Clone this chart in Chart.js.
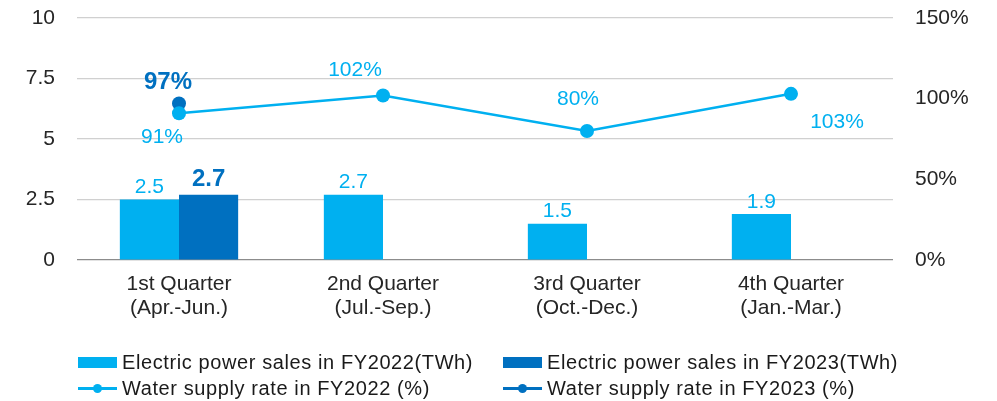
<!DOCTYPE html>
<html>
<head>
<meta charset="utf-8">
<script src="https://cdn.jsdelivr.net/npm/chart.js@4.4.1/dist/chart.umd.min.js"></script>
<style>
  html, body { margin: 0; padding: 0; background: #fff; }
  #wrap { position: relative; width: 997px; height: 401px; font-family: "Liberation Sans", Arial, sans-serif; }
  #legend { position: absolute; left: 0; top: 0; width: 997px; height: 401px; pointer-events: none; }
  .item { position: absolute; display: flex; align-items: center; font-size: 20px; letter-spacing: 0.6px; color: #1a1a1a; white-space: nowrap; }
  .box { width: 39px; height: 11px; margin-right: 5px; }
  .ln { position: relative; width: 39px; height: 3px; margin-right: 5px; }
  .ln span { position: absolute; left: 15px; top: -3px; width: 9px; height: 9px; border-radius: 50%; }
</style>
</head>
<body>
<div id="wrap">
  <canvas id="chart" width="997" height="401"></canvas>
  <div id="legend"></div>
</div>
<script>
const quarters = [
    ['1st Quarter', '(Apr.-Jun.)'],
    ['2nd Quarter', '(Jul.-Sep.)'],
    ['3rd Quarter', '(Oct.-Dec.)'],
    ['4th Quarter', '(Jan.-Mar.)'],
];
const sales2022 = [2.5, 2.7, 1.5, 1.9];
const sales2023 = [2.7, null, null, null];
const supply2022 = [91, 102, 80, 103];
const supply2023 = [97, null, null, null];
const salesTicks = [0, 2.5, 5, 7.5, 10];
const supplyTicks = [0, 50, 100, 150];

const LIGHT = '#00B0F0';
const DARK = '#0070C0';

// where each value label sits relative to its mark (dx, dy)
const labelStyle = [
    { color: LIGHT, font: '21px "Liberation Sans"', fmt: v => v.toFixed(1), off: [[0, -12], [0, -12], [0, -12], [0, -12]] },
    { color: DARK, font: 'bold 24px "Liberation Sans"', fmt: v => v.toFixed(1), off: [[0, -15]] },
    { color: LIGHT, font: '21px "Liberation Sans"', fmt: v => v + '%', off: [[-17, 24], [-28, -25], [-9, -32], [46, 28]] },
    { color: DARK, font: 'bold 24px "Liberation Sans"', fmt: v => v + '%', off: [[-11, -21]] },
];

const valueLabels = {
    id: 'valueLabels',
    afterDatasetsDraw(chart) {
        const ctx = chart.ctx;
        ctx.save();
        ctx.textAlign = 'center';
        ctx.textBaseline = 'middle';
        chart.data.datasets.forEach((ds, i) => {
            const st = labelStyle[i];
            chart.getDatasetMeta(i).data.forEach((el, j) => {
                const v = ds.data[j];
                if (v === null) return;
                const o = st.off[j] || [0, 0];
                ctx.fillStyle = st.color;
                ctx.font = st.font;
                ctx.fillText(st.fmt(v), el.x + o[0], el.y + o[1]);
            });
        });
        ctx.restore();
    }
};

Chart.defaults.font.family = '"Liberation Sans", Arial, sans-serif';
Chart.defaults.color = '#262626';

// fixed axis widths, and no extra top/bottom room from the tick padding
const fitY = w => s => { s.width = w; s.paddingTop = 0; s.paddingBottom = 0; };

new Chart(document.getElementById('chart'), {
    type: 'bar',
    data: {
        labels: quarters,
        datasets: [
            { label: 'Electric power sales in FY2022(TWh)', data: sales2022, backgroundColor: LIGHT, yAxisID: 'y', order: 2 },
            { label: 'Electric power sales in FY2023(TWh)', data: sales2023, backgroundColor: DARK, yAxisID: 'y', order: 3 },
            { type: 'line', label: 'Water supply rate in FY2022 (%)', data: supply2022, borderColor: LIGHT, backgroundColor: LIGHT,
              borderWidth: 2.5, pointRadius: 7, pointBorderWidth: 0, yAxisID: 'y2', order: 0 },
            { type: 'line', label: 'Water supply rate in FY2023 (%)', data: supply2023, borderColor: DARK, backgroundColor: DARK,
              borderWidth: 2.5, pointRadius: 7, pointBorderWidth: 0, yAxisID: 'y2', order: 1 },
        ]
    },
    options: {
        responsive: false,
        animation: false,
        categoryPercentage: 0.58,
        barPercentage: 1,
        layout: { padding: { top: 18, bottom: 0 } },
        scales: {
            x: {
                grid: { display: false },
                border: { display: false },
                ticks: { font: { size: 21, lineHeight: 1.15 }, padding: 4, maxRotation: 0 },
                afterFit: s => { s.height = 141; }
            },
            y: {
                position: 'left',
                min: 0, max: 10,
                afterBuildTicks: s => { s.ticks = salesTicks.map(v => ({ value: v })); },
                grid: { drawTicks: false, color: c => c.tick.value === 0 ? '#8c8c8c' : '#d0d0d0', lineWidth: 1.2 },
                border: { display: false },
                ticks: { font: { size: 21 }, padding: 22 },
                afterFit: fitY(77)
            },
            y2: {
                position: 'right',
                min: 0, max: 150,
                afterBuildTicks: s => { s.ticks = supplyTicks.map(v => ({ value: v })); },
                grid: { display: false },
                border: { display: false },
                ticks: { font: { size: 21 }, padding: 14, callback: v => v + '%' },
                afterFit: fitY(104)
            }
        },
        plugins: {
            legend: { display: false },
            tooltip: { enabled: false }
        }
    },
    plugins: [valueLabels]
});

// legend, two columns like the original
const legendItems = [
    { text: 'Electric power sales in FY2022(TWh)', color: LIGHT, kind: 'box', x: 78, y: 362 },
    { text: 'Electric power sales in FY2023(TWh)', color: DARK, kind: 'box', x: 503, y: 362 },
    { text: 'Water supply rate in FY2022 (%)', color: LIGHT, kind: 'line', x: 78, y: 388 },
    { text: 'Water supply rate in FY2023 (%)', color: DARK, kind: 'line', x: 503, y: 388 },
];
const legend = document.getElementById('legend');
legendItems.forEach(it => {
    const d = document.createElement('div');
    d.className = 'item';
    d.style.left = it.x + 'px';
    d.style.top = (it.y - 12) + 'px';
    d.style.height = '24px';
    const mark = document.createElement('div');
    if (it.kind === 'box') {
        mark.className = 'box';
        mark.style.background = it.color;
    } else {
        mark.className = 'ln';
        mark.style.background = it.color;
        const dot = document.createElement('span');
        dot.style.background = it.color;
        mark.appendChild(dot);
    }
    d.appendChild(mark);
    const t = document.createElement('span');
    t.textContent = it.text;
    d.appendChild(t);
    legend.appendChild(d);
});
</script>
</body>
</html>
